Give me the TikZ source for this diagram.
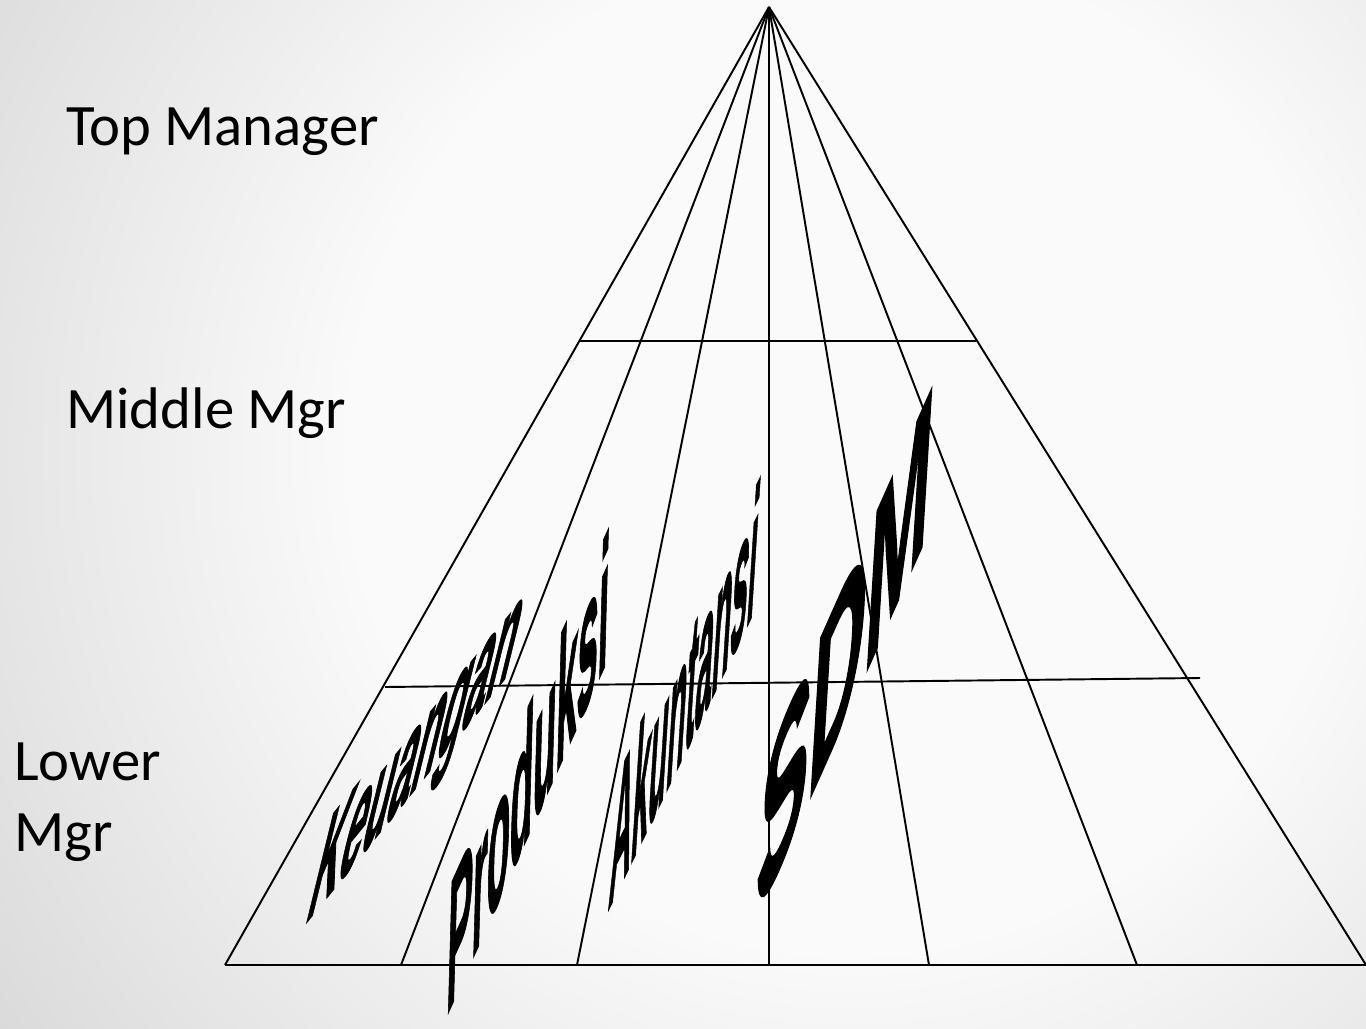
\documentclass[tikz,border=0pt]{standalone}
\usepackage{fontspec}
\setmainfont{Carlito}
\newfontfamily\artfont[BoldFeatures={FakeBold=1.6}]{Liberation Sans}
\usetikzlibrary{calc}
\definecolor{bgA}{RGB}{250,250,250}
\definecolor{bgB}{RGB}{221,221,221}
\definecolor{bgC}{RGB}{194,194,194}
\definecolor{bgD}{RGB}{186,186,186}
\definecolor{bgE}{RGB}{178,178,178}
\pgfdeclareradialshading{slidebg}{\pgfpoint{0bp}{0bp}}{%
  color(0bp)=(bgA); color(10.4bp)=(bgA); color(20.5bp)=(bgB);
  color(29.2bp)=(bgC); color(35.4bp)=(bgD); color(45.8bp)=(bgE); color(50bp)=(bgE)}
\tikzset{
  pyr/.style ={draw=black, line width=1.1pt},
  lvl/.style ={font=\fontsize{33.4}{40}\selectfont, inner sep=0pt, anchor=base west},
  wart/.style={font=\artfont\bfseries\fontsize{10}{12}\selectfont, inner sep=0pt,
               anchor=base west, transform shape},
}
\begin{document}
\begin{tikzpicture}[x=0.02cm,y=-0.02cm]
\useasboundingbox (0,0) rectangle (1366,1028);
\begin{scope}
  \clip (0,0) rectangle (1366,1028);
  \shade[shading=slidebg] (-350,-750) rectangle (2050,1650);
\end{scope}

% pyramid
\coordinate (top) at (769,7);
\coordinate (b0) at (225,965);
\coordinate (b1) at (401,965);
\coordinate (b2) at (577,965);
\coordinate (b3) at (769,965);
\coordinate (b4) at (929,965);
\coordinate (b5) at (1137,965);
\coordinate (b6) at (1366,965);
\coordinate (m1l) at (579,341);  \coordinate (m1r) at (976,341);
\coordinate (m2l) at (385,687);  \coordinate (m2r) at (1200,678);

\draw[pyr] (b0) -- (b6);
\foreach \b in {b0,b1,b2,b3,b4,b5,b6} \draw[pyr] (top) -- (\b);
\draw[pyr] (m1l) -- (m1r);
\draw[pyr] (m2l) -- (m2r);

% levels
\node[lvl] (topm) at (66,145) {Top Manager};
\node[lvl] (midm) at (66,428) {Middle Mgr};
\node[lvl] (lowm) at (14,780) {Lower};
\node[lvl] (lowm2) at (14,851) {Mgr};

% departments
\begin{scope}[cm={2.40,2.95,2.2,9.0,(303,927)}]
  \node[wart] (keu) {Keuangan};
\end{scope}
\begin{scope}[cm={2.15,4.76,0.3,10.8,(445,1020)}]
  \node[wart] (prod) {Produksi};
\end{scope}
\begin{scope}[cm={1.72,3.52,0.7,11.0,(607,913)}]
  \node[wart] (akun) {Akuntansi};
\end{scope}
\begin{scope}[cm={4.45,10.0,0.8,13.1,(752,929)}]
  \node[wart] (sdm) {SDM};
\end{scope}
\end{tikzpicture}
\end{document}
